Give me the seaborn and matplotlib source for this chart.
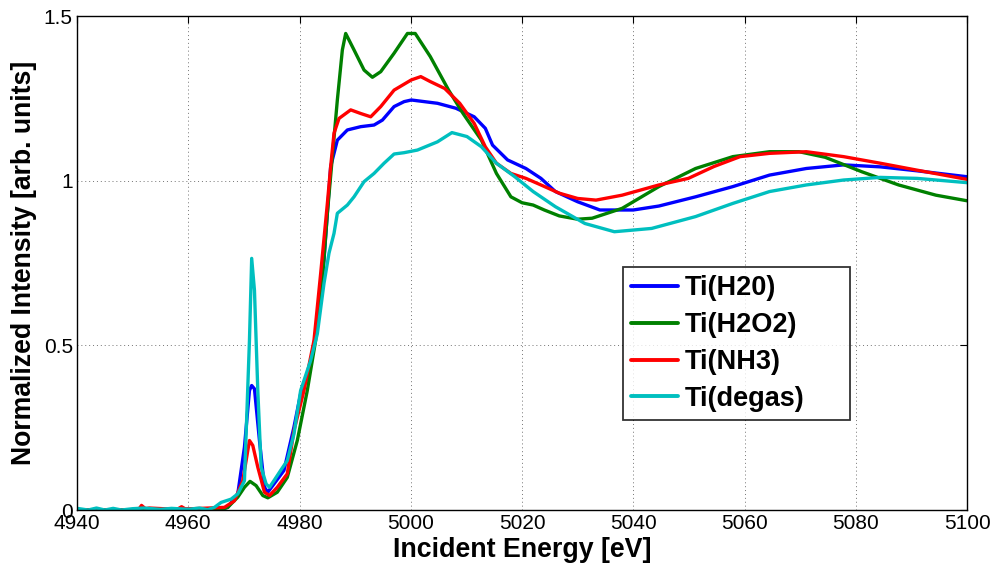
import matplotlib
matplotlib.use("Agg")
import matplotlib.pyplot as plt
import seaborn as sns
import pandas as pd

# ---- data ----
h2o_E = [4940, 4966, 4967.1, 4968.9, 4970.1, 4971.0, 4971.4, 4971.9, 4972.8, 4973.7, 4974.3, 4975.4,
         4977.2, 4979.0, 4980.2, 4981.7, 4983.2, 4984.4, 4985.6, 4986.8, 4988.6, 4991.0, 4993.4,
         4994.9, 4997.0, 4998.8, 5000.1, 5004.8, 5008.1, 5011.4, 5013.4, 5014.7, 5017.4, 5020.7,
         5023.4, 5026.0, 5030.0, 5034.0, 5040.0, 5044.6, 5051.2, 5057.9, 5064.5, 5071.1, 5077.8,
         5084.4, 5091.0, 5100]
h2o_I = [0, 0.003, 0.008, 0.049, 0.191, 0.363, 0.378, 0.368, 0.211, 0.069, 0.054, 0.079,
         0.120, 0.252, 0.353, 0.414, 0.566, 0.759, 1.043, 1.123, 1.154, 1.164, 1.169,
         1.184, 1.225, 1.240, 1.245, 1.235, 1.220, 1.194, 1.159, 1.108, 1.063, 1.037,
         1.007, 0.967, 0.936, 0.911, 0.911, 0.923, 0.951, 0.982, 1.017, 1.037, 1.048,
         1.042, 1.030, 1.012]

h2o2_E = [4940, 4966, 4967.1, 4968.9, 4970.1, 4971.1, 4972.2, 4973.4, 4974.3, 4976.0, 4977.8,
          4979.6, 4981.4, 4982.9, 4984.2, 4985.0, 4986.8, 4987.7, 4988.3, 4989.8, 4991.6, 4993.1,
          4994.6, 4997.0, 4999.4, 5000.8, 5003.5, 5006.8, 5009.4, 5012.7, 5015.4, 5018.0, 5020.0,
          5022.0, 5024.0, 5026.7, 5030.0, 5032.6, 5038.0, 5044.6, 5051.2, 5057.9, 5064.5, 5069.8,
          5074.5, 5081.1, 5087.7, 5094.4, 5100]
h2o2_I = [0, 0.002, 0.008, 0.039, 0.069, 0.087, 0.074, 0.044, 0.037, 0.054, 0.099,
          0.211, 0.363, 0.515, 0.72, 0.90, 1.245, 1.397, 1.447, 1.397, 1.336, 1.314,
          1.331, 1.387, 1.447, 1.447, 1.377, 1.275, 1.204, 1.123, 1.022, 0.951, 0.933,
          0.926, 0.911, 0.893, 0.883, 0.886, 0.916, 0.982, 1.037, 1.073, 1.088, 1.088,
          1.071, 1.027, 0.987, 0.956, 0.939]

nh3_E = [4940, 4951, 4951.6, 4952.3, 4953, 4958, 4958.8, 4959.5, 4966.5, 4968.3, 4969.8, 4971.0,
         4971.6, 4972.5, 4973.7, 4974.6, 4976.0, 4977.8, 4979.0, 4980.8, 4982.6, 4983.8, 4985.0,
         4985.6, 4986.2, 4987.1, 4989.2, 4991.0, 4992.8, 4994.6, 4997.0, 5000.1, 5001.8, 5003.5,
         5006.1, 5008.8, 5011.4, 5013.4, 5015.4, 5018.0, 5020.7, 5023.4, 5026.7, 5030.0, 5033.3,
         5038.0, 5044.6, 5049.9, 5054.5, 5059.2, 5064.5, 5071.1, 5077.8, 5084.4, 5091.0, 5100]
nh3_I = [0, 0, 0.014, 0.004, 0.006, 0.002, 0.010, 0.003, 0.008, 0.028, 0.089, 0.211,
         0.196, 0.130, 0.054, 0.044, 0.069, 0.110, 0.241, 0.363, 0.515, 0.718, 0.93,
         1.043, 1.144, 1.189, 1.215, 1.204, 1.194, 1.225, 1.275, 1.306, 1.316, 1.301,
         1.280, 1.235, 1.174, 1.103, 1.053, 1.022, 1.007, 0.987, 0.962, 0.946, 0.941,
         0.956, 0.987, 1.007, 1.043, 1.073, 1.083, 1.088, 1.073, 1.053, 1.032, 1.004]

degas_E = [4940, 4942, 4943.5, 4945, 4946.5, 4948, 4950, 4952, 4955, 4957, 4960, 4962, 4963.5,
           4964.7, 4965.9, 4967.7, 4968.9, 4970.1, 4971.0, 4971.4, 4971.9, 4972.5, 4973.1, 4974.0,
           4974.6, 4975.4, 4976.6, 4977.8, 4979.0, 4980.2, 4982.0, 4983.2, 4984.4, 4985.3, 4986.2,
           4986.8, 4988.6, 4989.8, 4991.6, 4993.4, 4995.2, 4997.0, 4998.8, 5001.2, 5004.8, 5007.4,
           5010.1, 5012.7, 5015.4, 5018.7, 5022.0, 5026.0, 5031.3, 5036.6, 5043.3, 5051.2, 5057.9,
           5064.5, 5071.1, 5077.8, 5084.4, 5091.0, 5100]
degas_I = [0.005, 0.0, 0.006, 0.0, 0.005, 0.0, 0.004, 0.006, 0.002, 0.005, 0.002, 0.006, 0.001,
           0.008, 0.023, 0.033, 0.049, 0.089, 0.515, 0.764, 0.667, 0.363, 0.130, 0.079,
           0.069, 0.089, 0.120, 0.150, 0.231, 0.363, 0.454, 0.535, 0.688, 0.78, 0.840,
           0.901, 0.926, 0.951, 0.997, 1.022, 1.053, 1.081, 1.085, 1.093, 1.118, 1.146,
           1.134, 1.103, 1.053, 1.012, 0.967, 0.921, 0.870, 0.845, 0.855, 0.891, 0.931,
           0.967, 0.987, 1.002, 1.010, 1.007, 0.994]

labels = ["Ti(H20)", "Ti(H2O2)", "Ti(NH3)", "Ti(degas)"]
colors = ["#0000ff", "#008000", "#ff0000", "#00bfbf"]
x_ticks = [4940, 4960, 4980, 5000, 5020, 5040, 5060, 5080, 5100]
y_ticks = [0, 0.5, 1, 1.5]
y_ticklabels = ["0", "0.5", "1", "1.5"]

frames = []
for lab, E, I in zip(labels, [h2o_E, h2o2_E, nh3_E, degas_E], [h2o_I, h2o2_I, nh3_I, degas_I]):
    frames.append(pd.DataFrame({"E": E, "I": I, "sample": lab}))
df = pd.concat(frames, ignore_index=True)

sns.set_style("white")
plt.rcParams["font.family"] = ["Liberation Sans", "DejaVu Sans"]
plt.rcParams["text.color"] = "black"
plt.rcParams["axes.labelcolor"] = "black"
plt.rcParams["xtick.color"] = "black"
plt.rcParams["ytick.color"] = "black"

fig = plt.figure(figsize=(9.95, 5.68), dpi=100)
ax = fig.add_axes([0.0774, 0.1021, 0.8945, 0.8697])

sns.lineplot(data=df, x="E", y="I", hue="sample", hue_order=labels,
             palette=dict(zip(labels, colors)), sort=False, estimator=None,
             linewidth=2.4, ax=ax, legend=False)

ax.set_xlim(4940, 5100)
ax.set_ylim(0, 1.5)
ax.set_xticks(x_ticks)
ax.set_yticks(y_ticks)
ax.set_yticklabels(y_ticklabels)
ax.tick_params(direction="in", top=True, right=True, length=5, width=0.8,
               labelsize=15, colors="black", pad=3)
ax.grid(True, linestyle=(0, (1, 3)), color="0.45", linewidth=0.7)
for sp in ax.spines.values():
    sp.set_visible(True)
    sp.set_color("black")
    sp.set_linewidth(1.0)

ax.set_xlabel("Incident Energy [eV]", fontsize=19.3, fontweight="bold", labelpad=3)
ax.set_ylabel("Normalized Intensity [arb. units]", fontsize=19.2, fontweight="bold", labelpad=5)

handles = [plt.Line2D([], [], color=c, linewidth=2.8) for c in colors]
leg = ax.legend(handles, labels, loc="lower left", bbox_to_anchor=(0.613, 0.182, 0.256, 0.31),
                mode="expand", prop={"weight": "bold", "size": 19.5}, frameon=True,
                fancybox=False, handlelength=1.75, handletextpad=0.25, labelspacing=0.4,
                borderpad=0.3, borderaxespad=0)
leg.get_frame().set_edgecolor("black")
leg.get_frame().set_linewidth(1.3)

fig.savefig("out.png", dpi=100)
